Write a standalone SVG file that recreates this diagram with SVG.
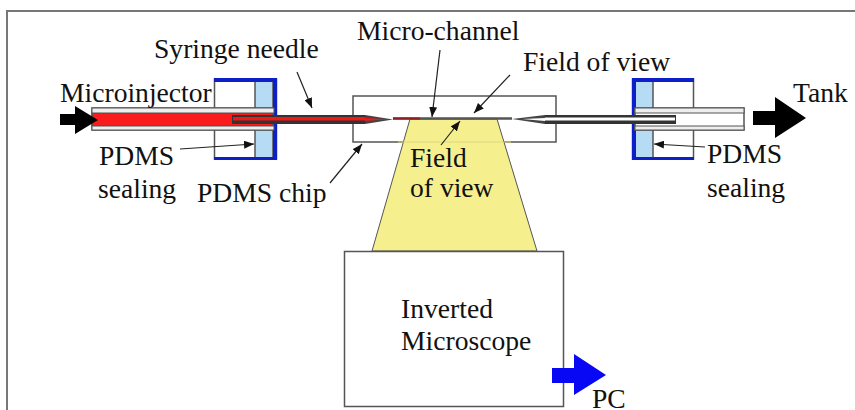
<svg xmlns="http://www.w3.org/2000/svg" width="855" height="410" viewBox="0 0 855 410">
<defs>
<marker id="a" markerUnits="userSpaceOnUse" markerWidth="11" markerHeight="8" refX="10" refY="4" orient="auto"><path d="M0 0L10 4L0 8Z" fill="#111"/></marker>
</defs>
<style>
text{font-family:"Liberation Serif","Times New Roman",serif;font-size:27.6px;fill:#111}
.w{fill:#fff;stroke:#555;stroke-width:1.5}
.c{fill:none;stroke:#222;stroke-width:1.2;marker-end:url(#a)}
.b{fill:#0f1fc8}
.s{fill:#b5dcf4;stroke:#555;stroke-width:1.5}
.k{fill:#000}
</style>
<rect width="855" height="410" fill="#fff"/>
<path id="frame" d="M7 410V11H855" fill="none" stroke="#777" stroke-width="2"/>
<g id="pdms-chip"><rect class="w" x="353" y="96" width="203" height="46"/></g>
<g id="field-of-view-beam"><path d="M410 119H497L537 251H372Z" fill="#f6ef8e" stroke="#555" stroke-width="1"/><path d="M398 142H511" stroke="#ddd680" stroke-width="1"/></g>
<g id="microchannel">
<path d="M393 118.500H512" stroke="#555" stroke-width="2.500"/>
<path d="M365 115L393 119.500L365 124Z" fill="#444"/>
<path d="M365 118L388 119.300L365 121Z" fill="#f01818"/>
<path d="M393 118.500H420" stroke="#8a2020" stroke-width="2"/>
<path d="M545 115L512 119L545 124Z" fill="#444"/>
<path d="M545 118L522 119L545 121Z" fill="#fff"/>
</g>
<g id="left-holder">
<rect x="214.500" y="79" width="62" height="80" fill="#fff" stroke="#555" stroke-width="1.500"/>
<rect class="s" x="255" y="81" width="18" height="77"/>
<path class="b" d="M214 78H277V160H214V157H273V82H214Z"/>
<rect class="w" x="92" y="108" width="181" height="22"/>
<rect x="92" y="113" width="181" height="13" fill="#fa1c1c" stroke="#555" stroke-width="1.500"/>
<rect x="92" y="108" width="182" height="5" fill="#eee" stroke="#555" stroke-width="1"/>
<rect x="92" y="126" width="182" height="4" fill="#eee" stroke="#555" stroke-width="1"/>
</g>
<g id="left-needle">
<rect x="232" y="115" width="133" height="9" fill="#333"/>
<rect x="233" y="117" width="132" height="3.500" fill="#f01818"/>
</g>
<g id="right-holder">
<rect x="632.500" y="79" width="61" height="80" fill="#fff" stroke="#555" stroke-width="1.500"/>
<rect class="s" x="635" y="81" width="18" height="77"/>
<path class="b" d="M694 78H632V160H694V157H636V82H694Z"/>
<rect class="w" x="635" y="108" width="109" height="22"/>
<rect x="635" y="108" width="109" height="5" fill="#eee" stroke="#555" stroke-width="1"/>
<rect x="635" y="126" width="109" height="4" fill="#eee" stroke="#555" stroke-width="1"/>
</g>
<g id="right-needle">
<rect x="545" y="115" width="131" height="9" fill="#333"/>
<rect x="545" y="117.500" width="130" height="3" fill="#fff"/>
</g>
<g id="microscope"><rect class="w" x="344.500" y="251.500" width="219" height="155"/>
<text x="401" y="318">Inverted</text><text x="401" y="350">Microscope</text></g>
<g id="arrows">
<path id="in-arrow" class="k" d="M60 114H75V106L98 120L75 134V125H60Z"/>
<path id="tank-arrow" class="k" d="M753 111H775V97L806 118L775 138V125H753Z"/>
<path id="pc-arrow" d="M552 368H574V354L606 375L574 395V383H552Z" fill="#0808f5"/>
</g>
<g id="connectors">
<path class="c" d="M297 72L312 108"/>
<path class="c" d="M440 50L432 117"/>
<path class="c" d="M510 75L474 113"/>
<path class="c" d="M441 145L460 121"/>
<path class="c" d="M180 149L254 144"/>
<path class="c" d="M330 183L362 144"/>
<path class="c" d="M705 147L654 144"/>
</g>
<g id="labels">
<text x="154" y="58">Syringe needle</text>
<text x="357" y="40">Micro-channel</text>
<text x="523" y="71">Field of view</text>
<text x="60" y="102">Microinjector</text>
<text x="793" y="102">Tank</text>
<text x="99" y="165">PDMS</text>
<text x="98" y="198">sealing</text>
<text x="197" y="202">PDMS chip</text>
<text x="410" y="167">Field</text>
<text x="410" y="197">of view</text>
<text x="707" y="163">PDMS</text>
<text x="707" y="197">sealing</text>
<text x="592" y="408">PC</text>
</g>
</svg>
